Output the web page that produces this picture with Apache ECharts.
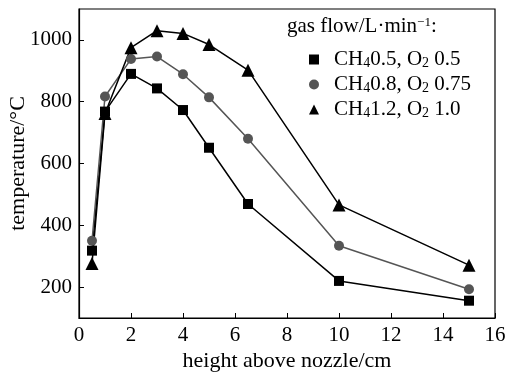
<!DOCTYPE html>
<html>
<head>
<meta charset="utf-8">
<script src="https://cdn.jsdelivr.net/npm/echarts@6/dist/echarts.min.js"></script>
<style>
  html, body { margin: 0; padding: 0; background: #fff; }
  #chart { width: 507px; height: 372px; }
</style>
</head>
<body>
<div id="chart"></div>
<script>
// heights above nozzle (cm)
const heights = [0.5, 1, 2, 3, 4, 5, 6.5, 10, 15]

// temperatures (°C) per gas flow setting
const tempLow = [318, 768, 890, 843, 773, 651, 469, 220, 156]
const tempMid = [350, 817, 938, 946, 889, 814, 680, 334, 193]
const tempHigh = [276, 762, 975, 1030, 1021, 985, 902, 466, 271]

const seriesNames = ['low', 'mid', 'high']
const legendLabels = {
  low: 'CH{sub|4}0.5, O{sub|2} 0.5',
  mid: 'CH{sub|4}0.8, O{sub|2} 0.75',
  high: 'CH{sub|4}1.2, O{sub|2} 1.0',
}

const font = '"Liberation Serif", "DejaVu Serif", serif'
const pair = (ys) => heights.map((x, i) => [x, ys[i]])

const chart = echarts.init(document.getElementById('chart'))

chart.setOption({
  animation: false,
  backgroundColor: '#fff',
  textStyle: { fontFamily: font },
  grid: {
    left: 79,
    right: 12,
    top: 9,
    bottom: 54,
    outerBoundsMode: 'none',
    containLabel: false,
    show: true,
    borderColor: '#000',
    borderWidth: 1.2,
  },
  graphic: [
    {
      type: 'text',
      left: 287,
      top: 16,
      style: {
        text: 'gas flow/L\u00b7min{sup|\u22121}:',
        font: '21px ' + font,
        fill: '#000',
        rich: {
          sup: { fontSize: 13, verticalAlign: 'top', fontFamily: font },
        },
      },
    },
  ],
  legend: {
    orient: 'vertical',
    left: 304,
    top: 44,
    itemGap: 4,
    itemWidth: 10,
    itemHeight: 10,
    data: [
      { name: 'low', icon: 'rect', itemStyle: { color: '#000' } },
      { name: 'mid', icon: 'circle', itemStyle: { color: '#555' } },
      { name: 'high', icon: 'triangle', itemStyle: { color: '#000' } },
    ],
    formatter: (name) => legendLabels[name],
    textStyle: {
      fontSize: 21,
      fontFamily: font,
      color: '#000',
      lineHeight: 21,
      padding: [0, 0, 0, 10],
      rich: {
        sub: { fontSize: 14, verticalAlign: 'bottom', fontFamily: font, color: '#000' },
      },
    },
  },
  xAxis: {
    type: 'value',
    min: 0,
    max: 16,
    interval: 2,
    name: 'height above nozzle/cm',
    nameLocation: 'middle',
    nameGap: 32,
    nameMoveOverlap: false,
    nameTextStyle: { fontSize: 22, fontFamily: font, color: '#000' },
    axisLine: { lineStyle: { color: '#000', width: 1.2 } },
    axisTick: { inside: true, length: 5, lineStyle: { color: '#000' } },
    axisLabel: { fontSize: 21, fontFamily: font, color: '#000', margin: 7 },
    splitLine: { show: false },
  },
  yAxis: {
    type: 'value',
    min: 100,
    max: 1100,
    splitNumber: 5,
    name: 'temperature/\u00b0C',
    nameLocation: 'middle',
    nameGap: 50,
    nameMoveOverlap: false,
    nameTextStyle: { fontSize: 22, fontFamily: font, color: '#000' },
    axisLine: { show: true, lineStyle: { color: '#000', width: 1.2 } },
    axisTick: { show: true, inside: true, length: 5, lineStyle: { color: '#000' } },
    axisLabel: {
      fontSize: 21,
      fontFamily: font,
      color: '#000',
      margin: 7,
      showMinLabel: false,
      showMaxLabel: false,
      formatter: (v) => String(v),
    },
    splitLine: { show: false },
  },
  series: [
    {
      name: 'low',
      type: 'line',
      data: pair(tempLow),
      symbol: 'rect',
      symbolSize: 10,
      lineStyle: { color: '#000', width: 1.5 },
      itemStyle: { color: '#000' },
    },
    {
      name: 'mid',
      type: 'line',
      data: pair(tempMid),
      symbol: 'circle',
      symbolSize: 10,
      lineStyle: { color: '#555', width: 1.5 },
      itemStyle: { color: '#555' },
    },
    {
      name: 'high',
      type: 'line',
      data: pair(tempHigh),
      symbol: 'triangle',
      symbolSize: 13,
      lineStyle: { color: '#000', width: 1.5 },
      itemStyle: { color: '#000' },
    },
  ],
})
</script>
</body>
</html>
